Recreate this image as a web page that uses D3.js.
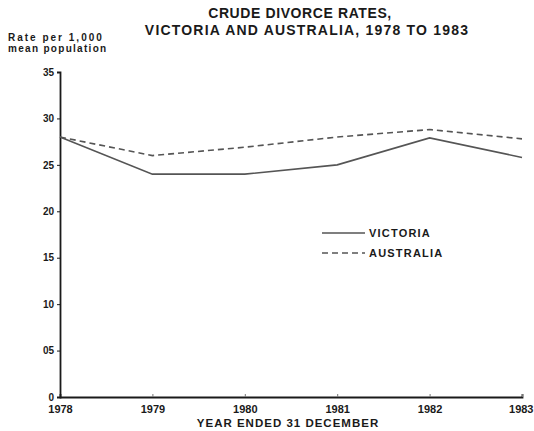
<!DOCTYPE html>
<html>
<head>
<meta charset="utf-8">
<script src="https://cdn.jsdelivr.net/npm/d3@7"></script>
<style>
  body { margin: 0; background: #fff; }
  svg { display: block; font-family: "Liberation Sans", Arial, sans-serif; }
</style>
</head>
<body>
<div id="chart"></div>
<script>
// data
const years = [1978, 1979, 1980, 1981, 1982, 1983];
const victoria = [28.0, 24.0, 24.0, 25.0, 27.9, 25.8];
const australia = [28.0, 26.0, 26.9, 28.0, 28.8, 27.8];
const yTicks = [0, 5, 10, 15, 20, 25, 30, 35];
const yTickLabels = ['0', '05', '10', '15', '20', '25', '30', '35'];

const width = 534, height = 431;
const margin = { top: 72, right: 12, bottom: 34, left: 60 };

const svg = d3.select('#chart')
    .append('svg')
    .attr('width', width)
    .attr('height', height);

const ink = '#1a1a1a';

// title
svg.append('text')
    .attr('x', 300).attr('y', 18)
    .attr('text-anchor', 'middle')
    .style('font-size', '14px').style('font-weight', 'bold')
    .style('letter-spacing', '0.6px')
    .style('fill', ink)
    .text('CRUDE DIVORCE RATES,');
svg.append('text')
    .attr('x', 307).attr('y', 35)
    .attr('text-anchor', 'middle')
    .style('font-size', '14px').style('font-weight', 'bold')
    .style('letter-spacing', '1.2px')
    .style('fill', ink)
    .text('VICTORIA AND AUSTRALIA, 1978 TO 1983');

// y axis title
svg.append('text')
    .attr('x', 8).attr('y', 41)
    .style('font-size', '10px').style('font-weight', 'bold')
    .style('letter-spacing', '2px')
    .style('fill', ink)
    .text('Rate per 1,000');
svg.append('text')
    .attr('x', 8).attr('y', 52)
    .style('font-size', '10px').style('font-weight', 'bold')
    .style('letter-spacing', '1.3px')
    .style('fill', ink)
    .text('mean population');

// scales
const x = d3.scaleLinear()
    .domain([1978, 1983])
    .range([margin.left, width - margin.right]);

const y = d3.scaleLinear()
    .domain([0, 35])
    .range([height - margin.bottom, margin.top]);

// axes
svg.append('g')
    .attr('transform', `translate(0,${height - margin.bottom})`)
    .call(d3.axisBottom(x).tickValues(years).tickFormat(d3.format('d')).tickSize(-3).tickPadding(8))
    .call(g => g.select('.domain').attr('stroke', ink).attr('stroke-width', 1.8))
    .call(g => g.selectAll('.tick line').attr('stroke', '#777'))
    .call(g => g.selectAll('text')
        .style('font-size', '11px').style('font-weight', 'bold')
        .style('font-family', '"Liberation Sans", Arial, sans-serif')
        .style('fill', ink))
    .call(g => g.selectAll('.tick:last-of-type text')
        .attr('text-anchor', 'end')
        .attr('x', 11));

svg.append('g')
    .attr('transform', `translate(${margin.left},0)`)
    .call(d3.axisLeft(y).tickValues(yTicks).tickFormat((d, i) => yTickLabels[i]).tickSize(3).tickPadding(3))
    .call(g => g.select('.domain').attr('stroke', ink).attr('stroke-width', 1.8))
    .call(g => g.selectAll('.tick line').attr('stroke', ink))
    .call(g => g.selectAll('text')
        .style('font-size', '10px').style('font-weight', 'bold')
        .style('font-family', '"Liberation Sans", Arial, sans-serif')
        .style('fill', ink));

// x axis title
svg.append('text')
    .attr('x', 288).attr('y', 427)
    .attr('text-anchor', 'middle')
    .style('font-size', '11.5px').style('font-weight', 'bold')
    .style('letter-spacing', '1px')
    .style('fill', ink)
    .text('YEAR ENDED 31 DECEMBER');

// lines
const line = d3.line()
    .x((d, i) => x(years[i]))
    .y(d => y(d));

svg.append('path')
    .datum(australia)
    .attr('fill', 'none')
    .attr('stroke', '#555')
    .attr('stroke-width', 1.6)
    .attr('stroke-dasharray', '6,4')
    .attr('d', line);

svg.append('path')
    .datum(victoria)
    .attr('fill', 'none')
    .attr('stroke', '#555')
    .attr('stroke-width', 1.6)
    .attr('d', line);

// legend
const legend = svg.append('g').attr('transform', 'translate(322,233)');
legend.append('line')
    .attr('x1', 0).attr('x2', 43).attr('y1', 0).attr('y2', 0)
    .attr('stroke', '#555').attr('stroke-width', 1.6);
legend.append('text')
    .attr('x', 47).attr('y', 4)
    .style('font-size', '11px').style('font-weight', 'bold')
    .style('letter-spacing', '1.2px')
    .style('fill', ink)
    .text('VICTORIA');
legend.append('line')
    .attr('x1', 0).attr('x2', 43).attr('y1', 20).attr('y2', 20)
    .attr('stroke', '#555').attr('stroke-width', 1.6)
    .attr('stroke-dasharray', '6,4');
legend.append('text')
    .attr('x', 47).attr('y', 24)
    .style('font-size', '11px').style('font-weight', 'bold')
    .style('letter-spacing', '1.2px')
    .style('fill', ink)
    .text('AUSTRALIA');
</script>
</body>
</html>
